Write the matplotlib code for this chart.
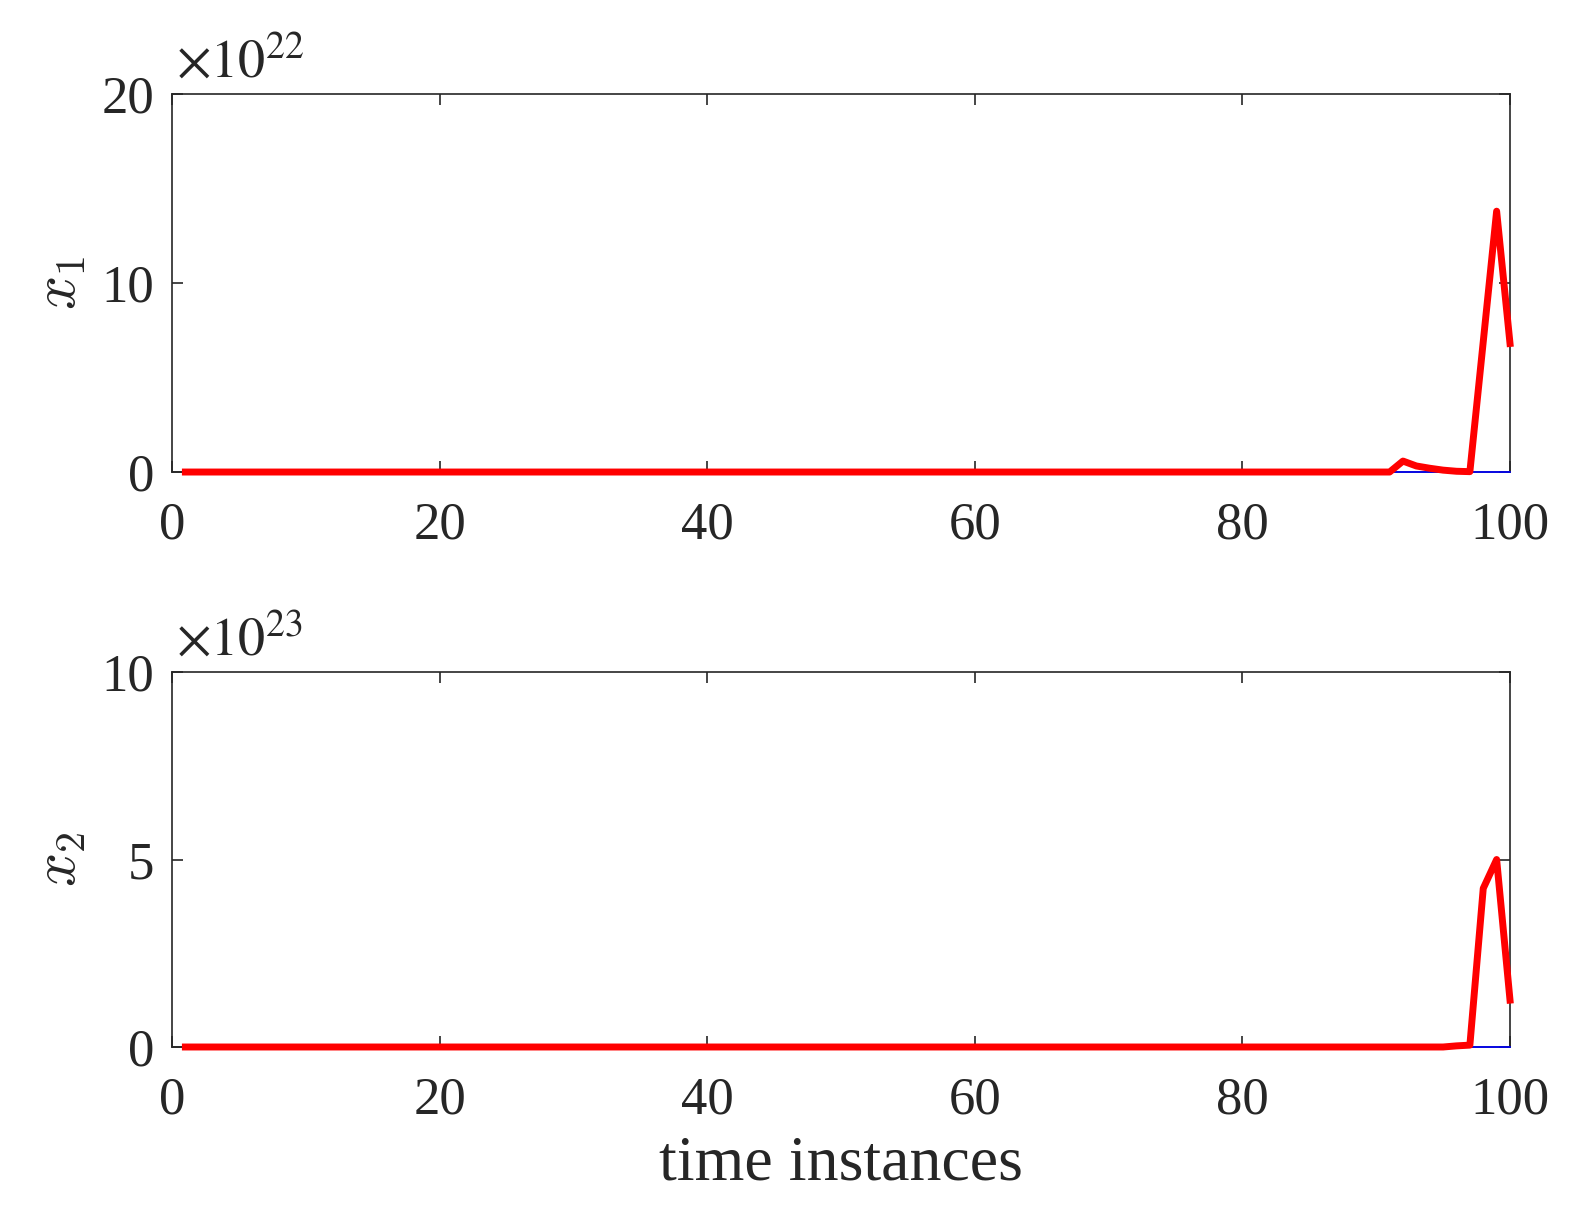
import numpy as np
import matplotlib.pyplot as plt

# values (x1 in units of 1e22, x2 in units of 1e23)
t = list(range(1, 101))
x1_est = [0.0] * 91 + [0.58, 0.32, 0.2, 0.1, 0.04, 0.02, 6.9, 13.8, 6.8]
x2_est = [0.0] * 95 + [0.03, 0.05, 4.23, 5.0, 1.25]
x1_true = [0.0] * 100
x2_true = [0.0] * 100
x1_ticks = [0, 10, 20]
x2_ticks = [0, 5, 10]
t_ticks = [0, 20, 40, 60, 80, 100]

plt.rcParams['font.family'] = ['Liberation Serif', 'DejaVu Serif']
fs = 38
grey = '#262626'

fig = plt.figure(figsize=(15.81, 12.27), dpi=100)
ax1 = fig.add_axes([0.1088, 0.6153, 0.8463, 0.3081])
ax2 = fig.add_axes([0.1088, 0.1467, 0.8463, 0.3056])

panels = [(ax1, x1_true, x1_est, x1_ticks, r'$x_1$', r'$\times10^{22}$'),
          (ax2, x2_true, x2_est, x2_ticks, r'$x_2$', r'$\times10^{23}$')]

for ax, tr, est, yt, lab, off in panels:
    ax.plot(t, tr, color='blue', lw=1.2, clip_on=False, zorder=3)
    ax.plot(t, est, color='red', lw=5, clip_on=False, zorder=4)
    ax.set_xlim(0, 100)
    ax.set_ylim(yt[0], yt[-1])
    ax.set_xticks(t_ticks)
    ax.set_yticks(yt)
    ax.tick_params(direction='in', top=True, right=True, length=8, width=1.2,
                   colors=grey, labelsize=fs)
    ax.tick_params(axis='x', pad=21)
    ax.tick_params(axis='y', pad=13)
    for s in ax.spines.values():
        s.set_color(grey)
        s.set_linewidth(1.2)
    ax.set_ylabel(lab, fontsize=43, color=grey, math_fontfamily='cm', labelpad=9)
    ax.text(0.003, 1.01, off, transform=ax.transAxes, fontsize=39, color=grey,
            ha='left', va='bottom', math_fontfamily='stix')

ax2.set_xlabel('time instances', fontsize=46, color=grey, labelpad=8)

fig.savefig('out.png')
